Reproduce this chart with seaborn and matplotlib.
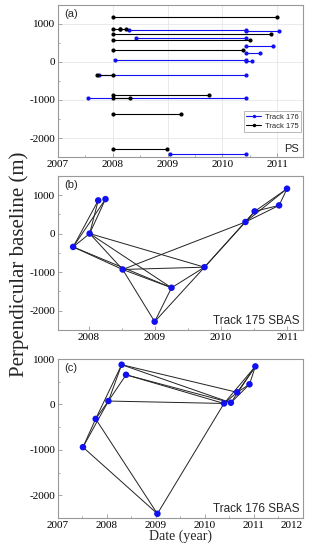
import pandas as pd
import matplotlib
matplotlib.use("Agg")
import matplotlib.pyplot as plt
from matplotlib.lines import Line2D
from matplotlib.ticker import MultipleLocator
import seaborn as sns

# -------------------------------
# Data
# -------------------------------

# (a) PS: horizontal connections (start date, end date, perpendicular baseline)
ps176_start = [2008.29, 2010.43, 2008.43, 2010.43, 2010.43, 2008.05, 2010.43, 2007.75, 2007.54, 2009.04]
ps176_end = [2010.43, 2011.04, 2010.43, 2010.92, 2010.68, 2010.43, 2010.55, 2010.43, 2010.43, 2010.43]
ps176_bperp = [850, 810, 630, 420, 247, 45, 15, -340, -960, -2420]

ps175_start = [2008.0, 2008.0, 2008.13, 2008.0, 2008.0, 2008.0, 2007.72, 2008.0, 2008.0, 2008.0, 2008.0]
ps175_end = [2011.0, 2008.13, 2008.25, 2010.88, 2010.51, 2010.38, 2008.0, 2009.75, 2008.32, 2009.25, 2008.99]
ps175_bperp = [1180, 880, 880, 745, 588, 307, -340, -870, -945, -1381, -2299]

# (b) Track 175 SBAS: acquisitions and interferogram pairs
t175_date = [2007.76, 2008.01, 2008.14, 2008.25, 2008.51, 2008.995, 2009.25, 2009.75, 2010.37, 2010.51, 2010.88, 2011.0]
t175_bperp = [-346, 0, 860, 894, -931, -2284, -1405, -871, 300, 576, 731, 1163]
t175_pairs = [(0, 1), (0, 2), (0, 3), (1, 2), (1, 3), (0, 4), (0, 6), (1, 4), (1, 6), (1, 7),
              (4, 5), (4, 6), (4, 7), (4, 8), (5, 6), (5, 7), (6, 7), (7, 8), (7, 9),
              (8, 9), (8, 10), (8, 11), (9, 10), (9, 11), (10, 11)]

# (c) Track 176 SBAS
t176_date = [2007.51, 2007.77, 2008.03, 2008.30, 2008.39, 2009.03, 2010.39, 2010.53, 2010.66, 2010.91, 2011.03]
t176_bperp = [-940, -318, 75, 875, 653, -2407, 22, 38, 267, 444, 838]
t176_pairs = [(0, 1), (0, 2), (0, 5), (1, 5), (1, 2), (1, 3), (2, 3), (2, 4), (2, 6),
              (3, 8), (3, 7), (4, 6), (4, 7), (5, 6), (6, 8), (6, 10), (7, 9), (7, 10),
              (8, 9), (8, 10), (9, 10)]

BLUE = "#1010f0"
SANS = "Liberation Sans"

sns.set_theme(style="ticks")
plt.rcParams["font.family"] = ["Liberation Serif", "DejaVu Serif"]
plt.rcParams["axes.unicode_minus"] = False


def segments_frame(starts, ends, bperp):
    rows = []
    for i, (s, e, b) in enumerate(zip(starts, ends, bperp)):
        rows.append({"seg": i, "date": s, "bperp": b})
        rows.append({"seg": i, "date": e, "bperp": b})
    return pd.DataFrame(rows)


def pairs_frame(dates, bperp, pairs):
    rows = []
    for i, (a, b) in enumerate(pairs):
        rows.append({"seg": i, "date": dates[a], "bperp": bperp[a]})
        rows.append({"seg": i, "date": dates[b], "bperp": bperp[b]})
    return pd.DataFrame(rows)


def style_axis(ax, xlim, ylim, xticks):
    ax.set_xlim(*xlim)
    ax.set_ylim(*ylim)
    ax.set_xticks(xticks)
    ax.set_yticks([-2000, -1000, 0, 1000])
    ax.yaxis.set_minor_locator(MultipleLocator(500))
    ax.xaxis.set_minor_locator(MultipleLocator(0.5))
    ax.tick_params(which="both", direction="in", colors="#999999", labelcolor="black",
                   labelsize=8, width=0.6)
    ax.tick_params(which="major", length=3)
    ax.tick_params(which="minor", length=1.5)
    ax.tick_params(axis="x", pad=2)
    ax.tick_params(axis="y", pad=2)
    for sp in ax.spines.values():
        sp.set_color("#999999")
        sp.set_linewidth(0.8)
    ax.set_xlabel("")
    ax.set_ylabel("")


fig = plt.figure(figsize=(3.1, 5.5), dpi=100)
ax_a = fig.add_axes([0.187, 0.7145, 0.790, 0.2765])
ax_b = fig.add_axes([0.187, 0.400, 0.790, 0.2805])
ax_c = fig.add_axes([0.187, 0.0582, 0.790, 0.289])

# -------------------------------
# (a) PS
# -------------------------------
ax_a.grid(True, color="#e6e6e6", lw=0.6)
ax_a.set_axisbelow(True)
df176 = segments_frame(ps176_start, ps176_end, ps176_bperp)
df175 = segments_frame(ps175_start, ps175_end, ps175_bperp)
sns.lineplot(data=df176, x="date", y="bperp", units="seg", estimator=None, sort=False,
             color=BLUE, lw=0.8, marker="o", markersize=3, markeredgewidth=0,
             legend=False, ax=ax_a)
sns.lineplot(data=df175, x="date", y="bperp", units="seg", estimator=None, sort=False,
             color="black", lw=0.8, marker="o", markersize=3, markeredgewidth=0,
             legend=False, ax=ax_a)
style_axis(ax_a, (2007, 2011.47), (-2500, 1500), [2007, 2008, 2009, 2010, 2011])
ax_a.text(0.025, 0.975, "(a)", transform=ax_a.transAxes, ha="left", va="top",
          fontsize=8, family=SANS)
ax_a.text(0.985, 0.02, "PS", transform=ax_a.transAxes, ha="right", va="bottom",
          fontsize=8, family=SANS)
handles = [Line2D([], [], color=BLUE, lw=0.8, marker="o", markersize=2.5, markeredgewidth=0),
           Line2D([], [], color="black", lw=0.8, marker="o", markersize=2.5, markeredgewidth=0)]
leg = ax_a.legend(handles, ["Track 176", "Track 175"], loc="lower right",
                  bbox_to_anchor=(1.0, 0.155), prop={"family": SANS, "size": 5.5},
                  frameon=True, fancybox=False, edgecolor="#999999", handlelength=2,
                  borderpad=0.3, labelspacing=0.2, handletextpad=0.5, borderaxespad=0.2)
leg.get_frame().set_linewidth(0.6)

# -------------------------------
# (b) Track 175 SBAS
# -------------------------------
dfb = pairs_frame(t175_date, t175_bperp, t175_pairs)
sns.lineplot(data=dfb, x="date", y="bperp", units="seg", estimator=None, sort=False,
             color="#222222", lw=0.7, legend=False, ax=ax_b)
sns.scatterplot(x=t175_date, y=t175_bperp, color=BLUE, s=22, edgecolor="none",
                zorder=3, ax=ax_b)
style_axis(ax_b, (2007.53, 2011.24), (-2500, 1500), [2008, 2009, 2010, 2011])
ax_b.text(0.025, 0.975, "(b)", transform=ax_b.transAxes, ha="left", va="top",
          fontsize=8, family=SANS)
ax_b.text(0.985, 0.02, "Track 175 SBAS", transform=ax_b.transAxes, ha="right",
          va="bottom", fontsize=8.5, family=SANS)

# -------------------------------
# (c) Track 176 SBAS
# -------------------------------
dfc = pairs_frame(t176_date, t176_bperp, t176_pairs)
sns.lineplot(data=dfc, x="date", y="bperp", units="seg", estimator=None, sort=False,
             color="#222222", lw=0.7, legend=False, ax=ax_c)
sns.scatterplot(x=t176_date, y=t176_bperp, color=BLUE, s=22, edgecolor="none",
                zorder=3, ax=ax_c)
style_axis(ax_c, (2007, 2012), (-2500, 1000), [2007, 2008, 2009, 2010, 2011, 2012])
ax_c.get_xticklabels()[-1].set_horizontalalignment("right")
ax_c.text(0.025, 0.975, "(c)", transform=ax_c.transAxes, ha="left", va="top",
          fontsize=8, family=SANS)
ax_c.text(0.985, 0.02, "Track 176 SBAS", transform=ax_c.transAxes, ha="right",
          va="bottom", fontsize=8.5, family=SANS)
ax_c.set_xlabel("Date (year)", fontsize=10, labelpad=0)

fig.text(0.063, 0.52, "Perpendicular baseline (m)", rotation=90, ha="center",
         va="center", fontsize=15)

fig.savefig("out.png", dpi=100)
